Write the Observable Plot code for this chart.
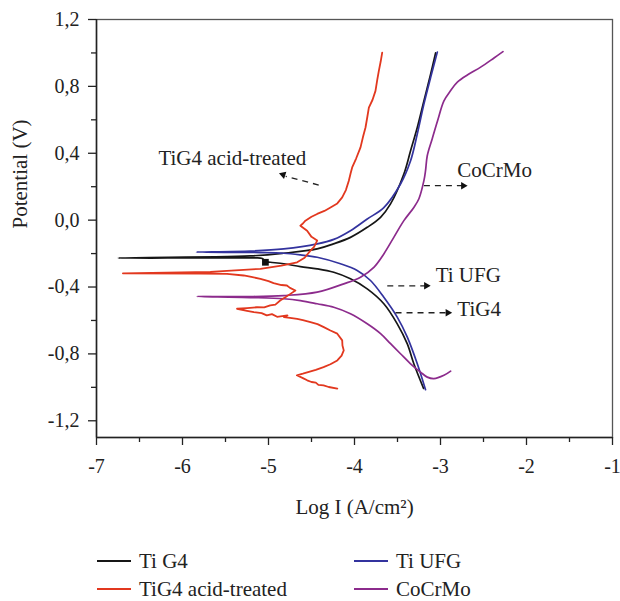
<!DOCTYPE html>
<html>
<head>
<meta charset="utf-8">
<script src="https://cdn.jsdelivr.net/npm/d3@7"></script>
<script src="https://cdn.jsdelivr.net/npm/@observablehq/plot@0.6"></script>
<style>
  html, body { margin: 0; padding: 0; background: #fff; }
  #chart { width: 620px; }
  .legend { position: relative; width: 620px; height: 64px; font-family: "Liberation Serif", "Times New Roman", serif; font-size: 21px; color: #222; }
  .item { position: absolute; display: flex; align-items: center; height: 28px; }
  .swatch { width: 34px; height: 2px; margin-right: 8px; }
</style>
</head>
<body>
<div id="chart"></div>
<div class="legend" id="legend"></div>
<script>
// ---- data (x = log I, y = potential V) ----
const seriesNames = ["Ti G4", "Ti UFG", "TiG4 acid-treated", "CoCrMo"];
const seriesColors = ["#161616", "#33339e", "#e2381f", "#8c2b8c"];

const tiG4 = [
  [-3.197,-1.006],[-3.31,-0.859],[-3.386,-0.740],[-3.503,-0.620],[-3.659,-0.500],[-3.852,-0.411],
  [-4.047,-0.351],[-4.241,-0.312],[-4.434,-0.291],[-4.629,-0.278],[-4.823,-0.261],[-4.978,-0.252],
  [-5.036,-0.248],[-5.071,-0.229],[-5.211,-0.226],[-6.747,-0.227],[-5.211,-0.214],[-4.826,-0.198],
  [-4.434,-0.172],[-4.245,-0.142],[-4.047,-0.103],[-3.852,-0.043],[-3.697,0.017],[-3.581,0.097],
  [-3.426,0.276],[-3.348,0.415],[-3.270,0.554],[-3.193,0.713],[-3.115,0.873],[-3.057,1.0]
];
const tiUFG = [
  [-3.174,-1.014],[-3.270,-0.859],[-3.386,-0.700],[-3.503,-0.580],[-3.659,-0.461],[-3.814,-0.361],
  [-3.969,-0.301],[-4.163,-0.261],[-4.434,-0.222],[-4.629,-0.208],[-4.823,-0.198],[-5.094,-0.194],
  [-5.839,-0.191],[-5.211,-0.185],[-4.823,-0.172],[-4.434,-0.142],[-4.241,-0.115],[-4.047,-0.063],
  [-3.852,0.007],[-3.659,0.075],[-3.465,0.216],[-3.348,0.355],[-3.270,0.515],[-3.193,0.694],
  [-3.115,0.853],[-3.037,1.005]
];
const tiG4Acid = [
  [-4.20,-1.008],[-4.30,-0.998],[-4.36,-0.988],[-4.42,-0.985],[-4.45,-0.972],[-4.50,-0.968],
  [-4.55,-0.958],[-4.60,-0.945],[-4.67,-0.928],[-4.60,-0.918],[-4.51,-0.904],[-4.45,-0.895],
  [-4.36,-0.879],[-4.28,-0.862],[-4.20,-0.839],[-4.15,-0.81],[-4.125,-0.779],[-4.14,-0.75],
  [-4.143,-0.719],[-4.20,-0.679],[-4.28,-0.66],[-4.357,-0.640],[-4.43,-0.622],[-4.512,-0.610],
  [-4.60,-0.598],[-4.667,-0.590],[-4.75,-0.585],[-4.82,-0.580],[-4.78,-0.570],[-4.90,-0.578],
  [-4.96,-0.562],[-5.02,-0.570],[-5.08,-0.556],[-5.17,-0.550],[-5.25,-0.542],[-5.366,-0.530],
  [-5.25,-0.526],[-5.134,-0.521],[-5.05,-0.522],[-4.98,-0.510],[-4.92,-0.505],[-4.864,-0.481],
  [-4.80,-0.46],[-4.745,-0.441],[-4.687,-0.421],[-4.75,-0.405],[-4.786,-0.391],[-4.85,-0.388],
  [-4.941,-0.377],[-5.0,-0.365],[-5.094,-0.351],[-5.2,-0.34],[-5.289,-0.331],[-5.482,-0.321],
  [-5.793,-0.319],[-6.693,-0.318],[-5.676,-0.310],[-5.094,-0.291],[-4.85,-0.272],[-4.667,-0.252],
  [-4.58,-0.225],[-4.512,-0.182],[-4.47,-0.16],[-4.434,-0.122],[-4.50,-0.10],[-4.551,-0.063],
  [-4.629,-0.033],[-4.60,-0.02],[-4.571,-0.003],[-4.50,0.02],[-4.434,0.037],[-4.35,0.055],
  [-4.279,0.076],[-4.20,0.10],[-4.143,0.136],[-4.10,0.18],[-4.066,0.236],[-4.045,0.28],
  [-4.027,0.315],[-3.98,0.37],[-3.93,0.435],[-3.90,0.50],[-3.872,0.554],[-3.85,0.62],
  [-3.833,0.673],[-3.79,0.72],[-3.756,0.773],[-3.735,0.84],[-3.717,0.893],[-3.695,0.95],
  [-3.678,1.002]
];
const coCrMo = [
  [-2.882,-0.903],[-2.960,-0.928],[-3.077,-0.948],[-3.154,-0.939],[-3.232,-0.909],[-3.348,-0.859],
  [-3.465,-0.799],[-3.581,-0.739],[-3.697,-0.679],[-3.852,-0.620],[-4.047,-0.560],[-4.241,-0.521],
  [-4.434,-0.500],[-4.629,-0.481],[-4.823,-0.470],[-5.211,-0.463],[-5.831,-0.457],[-5.211,-0.457],
  [-4.823,-0.451],[-4.434,-0.431],[-4.125,-0.381],[-3.930,-0.341],[-3.775,-0.282],[-3.659,-0.202],
  [-3.543,-0.103],[-3.426,-0.003],[-3.310,0.076],[-3.251,0.128],[-3.193,0.236],[-3.174,0.296],
  [-3.154,0.385],[-3.096,0.487],[-3.034,0.594],[-2.960,0.713],[-2.882,0.775],[-2.804,0.825],
  [-2.688,0.868],[-2.533,0.915],[-2.378,0.970],[-2.274,1.008]
];
const markerPoint = [[-5.036,-0.252]];

// annotations
const annoText = ["TiG4 acid-treated", "CoCrMo", "Ti UFG", "TiG4"];
const annoTextX = [-5.42, -2.804, -3.056, -2.804];
const annoTextY = [0.373, 0.296, -0.331, -0.536];
const annoAnchor = ["middle", "start", "start", "start"];
const arrowX1 = [-4.416, -3.193, -3.619, -3.523];
const arrowY1 = [0.210, 0.206, -0.393, -0.554];
const arrowX2 = [-4.80, -2.75, -3.18, -2.93];
const arrowY2 = [0.262, 0.206, -0.393, -0.554];
const headX = [-4.83, -2.735, -3.165, -2.915];
const headY = [0.272, 0.206, -0.393, -0.554];
const headRotate = [-72, 90, 90, 90];

// ticks
const xMajor = [-7, -6, -5, -4, -3, -2, -1];
const xMinor = [-6.5, -5.5, -4.5, -3.5, -2.5, -1.5];
const yMajor = [-1.2, -0.8, -0.4, 0, 0.4, 0.8, 1.2];
const yMinor = [-1.0, -0.6, -0.2, 0.2, 0.6, 1.0];

// ---- build tables ----
const allSeries = [tiG4, tiUFG, tiG4Acid, coCrMo];
const rows = allSeries.flatMap((arr, i) => arr.map(([x, y]) => ({x, y, series: seriesNames[i]})));
const smoothRows = rows.filter(d => d.series !== "TiG4 acid-treated");
const jaggedRows = rows.filter(d => d.series === "TiG4 acid-treated");
const annos = annoText.map((t, i) => ({
  t, x: annoTextX[i], y: annoTextY[i], anchor: annoAnchor[i],
  x1: arrowX1[i], y1: arrowY1[i], x2: arrowX2[i], y2: arrowY2[i],
  hx: headX[i], hy: headY[i], r: headRotate[i]
}));
const fmtY = d => d.toFixed(1).replace(".", ",");

const serif = "Liberation Serif, Times New Roman, serif";
const chart = Plot.plot({
  width: 620,
  height: 530,
  marginLeft: 96,
  marginRight: 8,
  marginTop: 19,
  marginBottom: 93,
  style: {fontFamily: serif, fontSize: "20px", color: "#222", background: "#fff"},
  x: {domain: [-7, -1]},
  y: {domain: [-1.3, 1.2]},
  color: {domain: seriesNames, range: seriesColors},
  marks: [
    Plot.frame({stroke: "#555", strokeWidth: 1.3}),
    Plot.line(smoothRows, {x: "x", y: "y", z: "series", stroke: "series", strokeWidth: 1.7, strokeLinejoin: "round", curve: "catmull-rom"}),
    Plot.line(jaggedRows, {x: "x", y: "y", z: "series", stroke: "series", strokeWidth: 1.8, strokeLinejoin: "round", curve: "linear"}),
    Plot.dot(markerPoint, {x: d => d[0], y: d => d[1], symbol: "square", r: 3.8, fill: "#111", stroke: "none"}),
    Plot.link(annos, {x1: "x1", y1: "y1", x2: "x2", y2: "y2", stroke: "#222", strokeWidth: 1.3, strokeDasharray: "6,5"}),
    Plot.dot(annos, {x: "hx", y: "hy", symbol: "triangle2", r: 3.6, rotate: "r", fill: "#111", stroke: "none"}),
    Plot.text(annos, {x: "x", y: "y", text: "t", textAnchor: "start", filter: d => d.anchor === "start", fontSize: 21, fill: "#222"}),
    Plot.text(annos, {x: "x", y: "y", text: "t", textAnchor: "middle", filter: d => d.anchor === "middle", fontSize: 21, fill: "#222"}),
    Plot.axisY({ticks: yMajor, tickSize: 8, tickPadding: 9, tickFormat: fmtY, label: null, fontSize: 20, strokeWidth: 1.3}),
    Plot.axisY({ticks: yMinor, tickSize: 5, tickFormat: () => "", label: null, strokeWidth: 1.3}),
    Plot.axisX({ticks: xMajor, tickSize: 8, tickPadding: 13, tickFormat: d => String(d), label: null, fontSize: 20, strokeWidth: 1.3}),
    Plot.axisX({ticks: xMinor, tickSize: 5, tickFormat: () => "", label: null, strokeWidth: 1.3}),
    Plot.ruleX([-7], {stroke: "#222", strokeWidth: 1.5}),
    Plot.ruleY([-1.3], {stroke: "#222", strokeWidth: 1.5}),
    Plot.text(["Log I (A/cm²)"], {frameAnchor: "bottom", dy: 76, text: d => d, fontSize: 21, fill: "#222"}),
    Plot.text(["Potential (V)"], {frameAnchor: "left", dx: -76, rotate: -90, text: d => d, fontSize: 21, fill: "#222"})
  ]
});
document.getElementById("chart").appendChild(chart);

// ---- legend ----
const legendPos = [[97, 0], [354, 0], [97, 28], [354, 28]];
const legendOrder = [0, 1, 2, 3];
const legend = document.getElementById("legend");
legend.style.marginTop = "17px";
legendOrder.forEach((si, k) => {
  const item = document.createElement("div");
  item.className = "item";
  item.style.left = legendPos[k][0] + "px";
  item.style.top = legendPos[k][1] + "px";
  const sw = document.createElement("span");
  sw.className = "swatch";
  sw.style.background = seriesColors[si];
  const tx = document.createElement("span");
  tx.textContent = seriesNames[si];
  item.appendChild(sw);
  item.appendChild(tx);
  legend.appendChild(item);
});
</script>
</body>
</html>
